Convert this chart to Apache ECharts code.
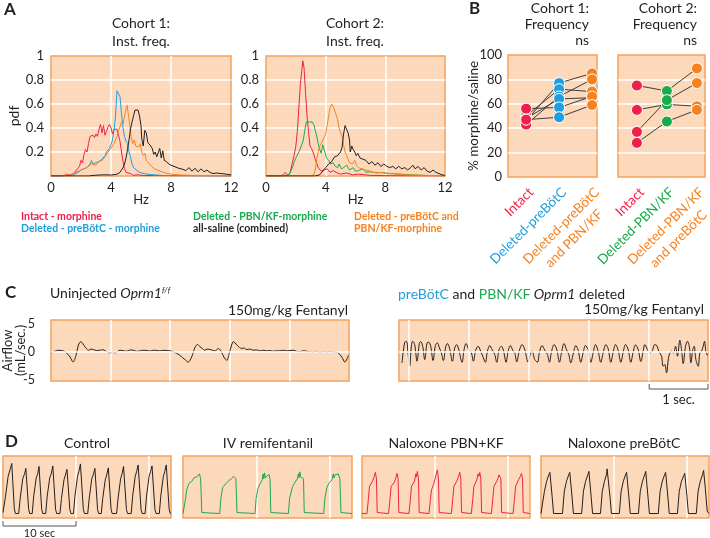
<!DOCTYPE html>
<html><head><meta charset="utf-8">
<script src="https://cdn.jsdelivr.net/npm/echarts@6/dist/echarts.min.js"></script>
<style>html,body{margin:0;padding:0;background:#fff}#c{width:710px;height:538px}</style>
</head><body><div id="c"></div>
<script>
// ---------------- DATA ----------------
const hzTicks = [0, 4, 8, 12];
const pdfTicks = [0.2, 0.4, 0.6, 0.8, 1];
const pctTicks = [0, 20, 40, 60, 80, 100];
const airTicks = [-5, 0, 5];

// Panel A, cohort 1 (Hz, pdf)
const c1Intact = [[0,0],[0.6,0],[0.9,0.005],[1.1,0.015],[1.3,0.005],[1.5,0.02],[1.7,0.05],[1.9,0.08],[2.0,0.13],[2.1,0.11],[2.2,0.18],[2.3,0.22],[2.4,0.2],[2.5,0.27],[2.6,0.33],[2.7,0.32],[2.8,0.34],[2.9,0.32],[3.0,0.35],[3.1,0.33],[3.2,0.39],[3.3,0.43],[3.4,0.36],[3.5,0.42],[3.6,0.34],[3.7,0.37],[3.8,0.41],[3.9,0.43],[4.0,0.4],[4.1,0.35],[4.2,0.39],[4.3,0.38],[4.4,0.39],[4.5,0.34],[4.6,0.29],[4.7,0.2],[4.8,0.12],[4.9,0.06],[5.0,0.03],[5.1,0.015],[5.3,0.02],[5.5,0.005],[5.8,0.01],[6.2,0.003],[7,0.005],[8,0.002],[9,0.004],[10,0.002],[12,0]];
const c1DelPre = [[0,0],[0.8,0],[1.2,0.005],[1.5,0.01],[1.8,0.03],[2.0,0.05],[2.2,0.06],[2.4,0.07],[2.6,0.1],[2.7,0.13],[2.8,0.1],[3.0,0.11],[3.2,0.12],[3.4,0.14],[3.6,0.17],[3.7,0.2],[3.8,0.19],[3.9,0.23],[4.0,0.26],[4.1,0.3],[4.2,0.38],[4.3,0.5],[4.4,0.71],[4.5,0.72],[4.6,0.66],[4.7,0.52],[4.8,0.4],[4.9,0.33],[5.0,0.29],[5.1,0.27],[5.2,0.2],[5.3,0.16],[5.4,0.1],[5.5,0.07],[5.7,0.05],[5.9,0.03],[6.2,0.02],[6.6,0.012],[7.0,0.008],[7.5,0.004],[8.5,0.002],[10,0],[12,0]];
const c1DelBoth = [[0,0],[0.8,0.003],[1.2,0.01],[1.5,0.02],[1.8,0.04],[2.0,0.05],[2.2,0.06],[2.5,0.08],[2.7,0.1],[3.0,0.09],[3.2,0.12],[3.4,0.13],[3.6,0.16],[3.8,0.2],[4.0,0.23],[4.2,0.27],[4.4,0.33],[4.5,0.38],[4.6,0.41],[4.7,0.45],[4.8,0.43],[4.9,0.5],[5.0,0.56],[5.07,0.59],[5.15,0.52],[5.25,0.42],[5.35,0.32],[5.45,0.27],[5.55,0.3],[5.65,0.25],[5.75,0.26],[5.85,0.24],[5.95,0.27],[6.05,0.2],[6.15,0.17],[6.25,0.19],[6.35,0.13],[6.5,0.11],[6.7,0.08],[6.9,0.06],[7.2,0.045],[7.5,0.03],[7.8,0.02],[8.2,0.012],[8.7,0.008],[9.5,0.005],[10.5,0.004],[12,0.002]];
const c1Saline = [[0,0],[2.5,0],[2.8,0.005],[3.2,0.008],[3.6,0.01],[4.0,0.008],[4.4,0.015],[4.6,0.03],[4.8,0.07],[4.9,0.1],[5.0,0.15],[5.1,0.22],[5.2,0.3],[5.3,0.39],[5.4,0.45],[5.5,0.5],[5.6,0.55],[5.7,0.56],[5.8,0.55],[5.9,0.5],[6.0,0.42],[6.05,0.31],[6.15,0.25],[6.25,0.38],[6.35,0.36],[6.45,0.28],[6.55,0.27],[6.65,0.25],[6.75,0.23],[6.85,0.18],[6.95,0.2],[7.05,0.16],[7.15,0.17],[7.25,0.23],[7.35,0.15],[7.45,0.21],[7.55,0.13],[7.7,0.12],[7.85,0.1],[8.0,0.09],[8.2,0.08],[8.5,0.065],[8.8,0.055],[9.0,0.045],[9.2,0.07],[9.4,0.04],[9.6,0.065],[9.8,0.035],[10.0,0.06],[10.2,0.035],[10.4,0.05],[10.6,0.03],[10.8,0.02],[11.0,0.025],[11.4,0.02],[11.7,0.015],[12,0.01]];

// Panel A, cohort 2 (Hz, pdf)
const c2Intact = [[0,0],[0.9,0],[1.1,0.005],[1.3,0.03],[1.45,0.005],[1.6,0.02],[1.75,0.1],[1.9,0.18],[2.0,0.25],[2.1,0.37],[2.2,0.56],[2.3,0.76],[2.4,0.88],[2.47,0.96],[2.55,0.9],[2.65,0.7],[2.75,0.5],[2.85,0.37],[2.95,0.25],[3.05,0.23],[3.15,0.2],[3.3,0.14],[3.5,0.07],[3.7,0.04],[3.9,0.05],[4.1,0.06],[4.3,0.03],[4.5,0.045],[4.7,0.03],[5.0,0.015],[5.4,0.025],[5.8,0.01],[6.2,0.015],[7,0.005],[8,0.003],[9,0.002],[12,0]];
const c2DelPbn = [[0,0],[1.1,0],[1.4,0.005],[1.6,0.02],[1.8,0.08],[1.9,0.12],[2.0,0.15],[2.2,0.2],[2.4,0.26],[2.5,0.3],[2.6,0.38],[2.7,0.45],[2.8,0.46],[2.9,0.45],[3.0,0.44],[3.1,0.45],[3.2,0.43],[3.3,0.38],[3.4,0.33],[3.5,0.27],[3.6,0.22],[3.7,0.19],[3.8,0.26],[3.85,0.27],[3.95,0.2],[4.05,0.15],[4.2,0.13],[4.35,0.1],[4.5,0.11],[4.65,0.08],[4.8,0.07],[4.9,0.1],[5.05,0.06],[5.2,0.07],[5.4,0.09],[5.6,0.05],[5.85,0.07],[6.0,0.04],[6.2,0.045],[6.5,0.06],[6.7,0.03],[7.0,0.035],[7.4,0.025],[7.8,0.03],[8.2,0.02],[8.6,0.02],[9.0,0.015],[9.5,0.012],[10,0.008],[10.5,0.005],[11,0.004],[12,0.002]];
const c2DelBoth = [[0,0],[3.0,0],[3.2,0.01],[3.3,0.05],[3.4,0.14],[3.5,0.2],[3.6,0.25],[3.7,0.27],[3.8,0.3],[3.9,0.32],[4.0,0.35],[4.1,0.42],[4.2,0.5],[4.3,0.57],[4.4,0.6],[4.5,0.58],[4.6,0.55],[4.7,0.51],[4.8,0.47],[4.9,0.4],[5.0,0.36],[5.1,0.33],[5.2,0.26],[5.3,0.2],[5.4,0.17],[5.5,0.14],[5.6,0.11],[5.7,0.1],[5.8,0.1],[5.95,0.13],[6.05,0.09],[6.2,0.07],[6.4,0.06],[6.6,0.05],[6.9,0.045],[7.2,0.03],[7.5,0.03],[8.0,0.025],[8.4,0.02],[8.8,0.015],[9.3,0.01],[10,0.008],[11,0.004],[12,0.002]];
const c2Saline = [[0,0],[3.3,0],[3.6,0.01],[3.8,0.04],[4.0,0.07],[4.2,0.1],[4.4,0.12],[4.6,0.16],[4.8,0.17],[5.0,0.2],[5.1,0.24],[5.2,0.35],[5.3,0.42],[5.4,0.42],[5.5,0.36],[5.6,0.3],[5.65,0.2],[5.75,0.25],[5.85,0.22],[5.95,0.2],[6.05,0.17],[6.15,0.19],[6.3,0.15],[6.5,0.14],[6.7,0.13],[6.9,0.1],[7.1,0.12],[7.3,0.09],[7.5,0.11],[7.7,0.08],[7.9,0.1],[8.1,0.08],[8.3,0.07],[8.5,0.08],[8.7,0.06],[8.9,0.08],[9.1,0.06],[9.3,0.07],[9.5,0.05],[9.7,0.07],[9.85,0.09],[10.0,0.06],[10.2,0.08],[10.4,0.05],[10.6,0.07],[10.8,0.04],[11.0,0.03],[11.2,0.05],[11.4,0.03],[11.6,0.02],[11.8,0.01],[12,0.005]];

// Panel B (% morphine/saline), one entry per animal
const bC1Cats = ['Intact', 'Deleted-preBötC', 'Deleted-preBötC\nand PBN/KF'];
const bC1Intact = [46, 50, 43, 48, 56, 47];
const bC1DelPre = [77, 72, 66, 64, 57, 49];
const bC1DelBoth = [85, 70, 80, 65, 66, 59];
const bC2Cats = ['Intact', 'Deleted-PBN/KF', 'Deleted-PBN/KF\nand preBötC'];
const bC2Intact = [75, 55, 37, 28];
const bC2DelPbn = [70.5, 59.5, 63, 45.5];
const bC2DelBoth = [89, 58, 77, 55];

// Panel C airflow (sec, mL/sec)
const cUninj = [[0,-0.18],[0.06,0.1],[0.12,0.3],[0.17,0.24],[0.21,0.18],[0.26,-0.18],[0.32,-0.91],[0.37,-1.83],[0.42,-0.61],[0.46,1.22],[0.5,1.83],[0.57,0.91],[0.63,0.3],[0.67,0.5],[0.71,0.43],[0.76,0.25],[0.82,0.3],[0.87,0.4],[0.91,0.18],[0.99,-0.18],[1.03,0],[1.07,-0.18],[1.12,0.1],[1.16,0.3],[1.22,0.2],[1.27,0.12],[1.33,0.35],[1.38,0.3],[1.44,0.1],[1.49,0.18],[1.55,0.3],[1.61,0.24],[1.66,0.15],[1.72,0.3],[1.78,0.25],[1.83,0.18],[1.89,0.3],[1.94,0.24],[2.0,0.2],[2.05,0],[2.1,-0.2],[2.16,-0.61],[2.25,-1.4],[2.3,-1.83],[2.36,-0.91],[2.42,0.91],[2.46,1.34],[2.5,0.91],[2.54,0.6],[2.58,0.3],[2.62,0.5],[2.67,0.43],[2.71,0.3],[2.75,0.18],[2.81,0.61],[2.86,0],[2.9,-0.91],[2.95,-1.52],[2.99,-0.3],[3.03,1.22],[3.06,1.83],[3.12,1.22],[3.16,0.8],[3.2,0.61],[3.24,0.7],[3.28,0.43],[3.34,0.5],[3.39,0.3],[3.45,0.35],[3.51,0.18],[3.56,0.3],[3.62,0.18],[3.67,0.25],[3.73,0.12],[3.78,0.2],[3.84,0.18],[3.9,0.3],[3.95,0.18],[4.01,0.25],[4.07,0.3],[4.12,0.1],[4.18,0.06],[4.24,0.2],[4.29,0.12],[4.35,0.05],[4.4,0],[4.46,0.1],[4.51,-0.06],[4.57,0.05],[4.63,0],[4.68,0.08],[4.74,0],[4.79,-0.05],[4.82,-0.18],[4.88,-0.91],[4.93,-1.83],[4.99,-0.61]];
const cDeleted = [[-0.117,-1.96],[-0.072,1.73],[-0.044,1.9],[-0.011,-0.77],[0.011,-2.56],[0.039,1.01],[0.061,1.9],[0.094,1.31],[0.133,-1.67],[0.172,1.49],[0.194,1.85],[0.228,1.01],[0.261,-1.37],[0.3,1.61],[0.328,1.73],[0.361,1.01],[0.4,-1.55],[0.439,1.13],[0.472,1.61],[0.506,0.71],[0.539,-0.18],[0.572,-1.55],[0.611,0.89],[0.639,1.49],[0.678,0.54],[0.722,-1.67],[0.761,0.71],[0.794,1.31],[0.828,0.42],[0.883,-1.85],[0.917,0.42],[0.95,1.49],[0.994,0.42],[1.039,-0.18],[1.072,-1.67],[1.111,0.3],[1.15,1.01],[1.194,0.12],[1.228,-0.77],[1.272,-1.85],[1.306,0.12],[1.344,1.13],[1.383,0.42],[1.428,-0.48],[1.461,-1.85],[1.5,0.42],[1.539,1.01],[1.572,0.3],[1.617,-1.85],[1.65,0.12],[1.689,1.13],[1.728,0.3],[1.761,-0.18],[1.794,-1.79],[1.839,0.3],[1.883,1.31],[1.928,0.42],[1.983,-1.85],[2.017,-0.48],[2.05,0.12],[2.094,-1.37],[2.139,-1.85],[2.172,-0.06],[2.217,1.13],[2.261,0.3],[2.306,-0.48],[2.339,-1.85],[2.372,-0.06],[2.417,1.31],[2.461,0.42],[2.506,-1.85],[2.539,-0.18],[2.583,1.49],[2.622,0.42],[2.661,-0.48],[2.694,-1.96],[2.739,-0.18],[2.778,1.13],[2.817,0.3],[2.861,-1.85],[2.9,-0.18],[2.939,1.13],[2.983,0.42],[3.028,-1.85],[3.067,-0.18],[3.106,1.31],[3.15,0.12],[3.194,-1.85],[3.233,-0.18],[3.278,1.31],[3.317,0.54],[3.361,-1.85],[3.4,-0.06],[3.439,1.31],[3.483,0.3],[3.528,-1.85],[3.567,-0.06],[3.606,1.31],[3.65,0.42],[3.694,-1.85],[3.733,-0.06],[3.772,1.25],[3.817,0.42],[3.861,-1.73],[3.9,0.12],[3.928,1.31],[3.972,0.42],[4.017,-0.18],[4.05,0.12],[4.094,1.31],[4.128,1.13],[4.161,0.12],[4.206,-0.77],[4.233,-2.56],[4.261,-2.26],[4.289,-3.75],[4.328,-0.77],[4.372,0.12],[4.406,-0.18],[4.439,1.01],[4.472,-0.77],[4.511,2.08],[4.539,0.42],[4.567,-2.08],[4.606,1.01],[4.639,1.9],[4.672,0.71],[4.694,-1.96],[4.728,0.42],[4.75,1.01],[4.778,-1.37],[4.817,-2.56],[4.844,-0.18],[4.872,0.12],[4.9,1.01],[4.922,1.9],[4.944,0.12],[4.972,-0.65]];

// Panel D airflow traces (sec, normalized amplitude)
const dControl = [[0,0.02],[0.3,0.3],[0.7,0.75],[1.0,0.9],[1.2,1.01],[1.55,0.1],[1.7,0],[2.15,0],[2.35,0.3],[2.7,0.7],[2.95,0.8],[3.13,0.91],[3.5,0.1],[3.65,0],[4.0,0],[4.2,0.35],[4.55,0.72],[4.75,0.8],[4.93,0.95],[5.3,0.08],[5.45,0],[5.85,0],[6.05,0.35],[6.4,0.72],[6.6,0.8],[6.82,0.96],[7.2,0.08],[7.35,0],[7.8,0],[8.0,0.3],[8.35,0.68],[8.55,0.78],[8.76,0.89],[9.15,0.08],[9.3,0],[9.65,0],[9.85,0.35],[10.2,0.75],[10.4,0.85],[10.6,1.0],[11.0,0.08],[11.15,0],[11.6,0],[11.8,0.3],[12.15,0.7],[12.4,0.8],[12.58,0.91],[12.95,0.08],[13.1,0],[13.45,0],[13.65,0.3],[14.0,0.68],[14.2,0.78],[14.42,0.92],[14.8,0.08],[14.95,0],[15.55,0],[15.75,0.3],[16.1,0.7],[16.3,0.8],[16.5,0.95],[16.9,0.08],[17.05,0],[17.55,0],[17.75,0.35],[18.1,0.75],[18.3,0.85],[18.5,0.98],[18.9,0.08],[19.05,0],[19.45,0],[19.65,0.35],[20.0,0.75],[20.2,0.85],[20.4,0.96],[20.8,0.08],[20.95,0],[21.4,0],[21.6,0.35],[21.95,0.75],[22.15,0.85],[22.35,0.98],[22.75,0.08],[22.9,0],[23,0]];
const dRemi = [[0,0],[0.18,0.01],[0.35,0.3],[0.5,0.48],[0.82,0.61],[1.2,0.65],[1.5,0.72],[1.9,0.74],[2.24,0.8],[2.4,0.7],[2.56,0.02],[2.7,0],[5.0,0],[5.15,0.3],[5.39,0.52],[5.8,0.6],[6.21,0.66],[6.6,0.7],[6.9,0.75],[7.03,0.78],[7.2,0.7],[7.35,0.02],[7.5,0],[9.8,0],[9.95,0.3],[10.18,0.5],[10.5,0.6],[10.78,0.68],[10.9,0.8],[11.0,0.7],[11.1,0.82],[11.2,0.72],[11.4,0.75],[11.69,0.79],[11.85,0.7],[11.95,0.02],[12.1,0],[14.35,0],[14.5,0.3],[14.89,0.54],[15.2,0.62],[15.57,0.7],[15.7,0.8],[15.8,0.72],[15.9,0.84],[16.0,0.74],[16.26,0.78],[16.4,0.7],[16.5,0.02],[16.65,0],[19.15,0],[19.3,0.3],[19.59,0.53],[19.9,0.62],[20.27,0.68],[20.45,0.8],[20.55,0.72],[20.7,0.78],[21.14,0.8],[21.35,0.7],[21.5,0.02],[21.65,0],[23,0]];
const dNalPbn = [[0,0],[0.68,0],[0.88,0.3],[1.03,0.55],[1.43,0.65],[1.68,0.75],[1.83,0.83],[1.98,0.7],[2.08,0.02],[2.23,0],[3.64,0],[3.84,0.3],[3.99,0.55],[4.39,0.62],[4.64,0.72],[4.79,0.81],[4.94,0.7],[5.04,0.02],[5.19,0],[6.43,0],[6.63,0.3],[6.78,0.55],[7.18,0.65],[7.38,0.8],[7.45,0.74],[7.58,0.85],[7.73,0.7],[7.83,0.02],[7.98,0],[9.17,0],[9.37,0.3],[9.52,0.48],[9.7,0.5],[9.8,0.58],[10.0,0.7],[10.32,0.88],[10.47,0.7],[10.57,0.02],[10.72,0],[12.23,0],[12.43,0.3],[12.58,0.55],[12.98,0.65],[13.23,0.75],[13.38,0.83],[13.53,0.7],[13.63,0.02],[13.78,0],[14.97,0],[15.17,0.3],[15.32,0.55],[15.72,0.68],[15.9,0.8],[16.0,0.75],[16.12,0.83],[16.27,0.7],[16.37,0.02],[16.52,0],[17.71,0],[17.91,0.3],[18.06,0.55],[18.46,0.65],[18.65,0.72],[18.75,0.78],[18.86,0.78],[19.01,0.7],[19.11,0.02],[19.26,0],[20.68,0],[20.88,0.3],[21.03,0.55],[21.43,0.68],[21.68,0.75],[21.83,0.81],[21.98,0.7],[22.08,0.02],[22.23,0],[23,0]];
const dNalPre = [[0,0],[0.22,0.02],[0.47,0.45],[0.77,0.65],[1.07,0.78],[1.22,0.83],[1.52,0.35],[1.72,0],[2.94,0],[3.19,0.45],[3.49,0.65],[3.79,0.78],[3.94,0.83],[4.24,0.35],[4.44,0],[5.56,0],[5.81,0.45],[6.11,0.65],[6.41,0.78],[6.56,0.85],[6.86,0.35],[7.06,0],[8.14,0],[8.39,0.45],[8.69,0.65],[8.99,0.8],[9.05,0.9],[9.14,0.88],[9.2,0.92],[9.44,0.35],[9.64,0],[10.72,0],[10.97,0.45],[11.27,0.65],[11.57,0.78],[11.72,0.83],[12.02,0.35],[12.22,0],[13.34,0],[13.59,0.45],[13.89,0.65],[14.19,0.78],[14.34,0.85],[14.64,0.35],[14.84,0],[16.06,0],[16.31,0.45],[16.61,0.65],[16.91,0.78],[17.06,0.83],[17.36,0.35],[17.56,0],[18.68,0],[18.93,0.45],[19.23,0.65],[19.53,0.76],[19.68,0.81],[19.98,0.35],[20.18,0],[21.26,0],[21.51,0.45],[21.81,0.65],[22.11,0.78],[22.26,0.87],[22.5,0.5],[22.75,0.05],[23,0]];

// ---------------- STYLE ----------------
const RED = '#ee2049', BLUE = '#1e9fdf', ORANGE = '#f6821f', GREEN = '#1aa94c', BLACK = '#231f20';
const BG = '#fdd9bb', BORDER = '#f5a25c';
const FONT = 'Lato, "Noto Sans", sans-serif';
const TXT = '#231f20';

const chart = echarts.init(document.getElementById('c'), null, {renderer: 'canvas'});

const gridBoxes = [
  {left: 51, top: 56, width: 180, height: 120},
  {left: 266, top: 56, width: 179, height: 120},
  {left: 508, top: 55, width: 89, height: 122},
  {left: 618, top: 55, width: 87, height: 122},
  {left: 51, top: 320, width: 298, height: 61},
  {left: 399, top: 320, width: 309, height: 61},
  {left: 3, top: 456, width: 168, height: 62},
  {left: 183, top: 456, width: 169, height: 62},
  {left: 362, top: 456, width: 168, height: 62},
  {left: 541, top: 456, width: 168, height: 62}
];
const grid = gridBoxes.map(g => Object.assign({show: true, backgroundColor: BG, borderColor: BORDER, borderWidth: 1.5, containLabel: false, outerBoundsMode: 'none'}, g));

const white = {show: true, showMinLine: false, showMaxLine: false, lineStyle: {color: '#ffffff', width: 1.5}};
const base = (gi, o) => Object.assign({gridIndex: gi, type: 'value', nameMoveOverlap: false, axisLine: {show: false}, axisTick: {show: false}, axisLabel: {show: false}, splitLine: {show: false}}, o);
const lbl = {show: true, fontSize: 13, color: TXT, fontFamily: FONT, showMinLabel: true, showMaxLabel: true, hideOverlap: false};

const hzName = {name: 'Hz', nameLocation: 'middle', nameGap: 17, nameTextStyle: {fontSize: 13, color: TXT, fontFamily: FONT}};
const xAxis = [
  base(0, Object.assign({min: 0, max: 12, interval: 4, axisLabel: Object.assign({}, lbl, {customValues: hzTicks, margin: 5}), splitLine: white}, hzName)),
  base(1, Object.assign({min: 0, max: 12, interval: 4, axisLabel: Object.assign({}, lbl, {customValues: hzTicks, margin: 5}), splitLine: white}, hzName)),
  base(2, {min: -0.55, max: 2.15}),
  base(3, {min: -0.63, max: 2.27}),
  base(4, {min: 0, max: 5, interval: 1, splitLine: white}),
  base(5, {min: -0.167, max: 4.98}),
  base(6, {min: 0, max: 23, interval: 10, splitLine: white}),
  base(7, {min: 0, max: 23, interval: 10, splitLine: white}),
  base(8, {min: 0, max: 23, interval: 10, splitLine: white}),
  base(9, {min: 0, max: 23, interval: 10, splitLine: white})
];
const yAxis = [
  base(0, {min: 0, max: 1, interval: 0.2, axisLabel: Object.assign({}, lbl, {customValues: pdfTicks, margin: 7}), splitLine: white, name: 'pdf', nameLocation: 'middle', nameGap: 30, nameTextStyle: {fontSize: 14, color: TXT, fontFamily: FONT}}),
  base(1, {min: 0, max: 1, interval: 0.2, axisLabel: Object.assign({}, lbl, {customValues: pdfTicks, margin: 7}), splitLine: white}),
  base(2, {min: 0, max: 100, interval: 20, axisLabel: Object.assign({}, lbl, {customValues: pctTicks, margin: 6}), splitLine: white, name: '% morphine/saline', nameLocation: 'middle', nameGap: 27, nameTextStyle: {fontSize: 13.5, color: TXT, fontFamily: FONT}}),
  base(3, {min: 0, max: 100, interval: 20, splitLine: white}),
  base(4, {min: -5.2, max: 5.7, axisLabel: Object.assign({}, lbl, {customValues: airTicks, margin: 16, fontSize: 12.5}), name: 'Airflow\n(mL/sec.)', nameLocation: 'middle', nameGap: 24, nameTextStyle: {fontSize: 13, color: TXT, fontFamily: FONT, lineHeight: 13}}),
  base(5, {min: -5.2, max: 5.7}),
  base(6, {min: -0.09, max: 1.16}),
  base(7, {min: -0.09, max: 1.16}),
  base(8, {min: -0.09, max: 1.16}),
  base(9, {min: -0.09, max: 1.16})
];

const series = [];
function trace(gi, data, color, smooth) {
  series.push({type: 'line', xAxisIndex: gi, yAxisIndex: gi, data: data, showSymbol: false, symbol: 'none', smooth: smooth || false, lineStyle: {color: color, width: 1}, z: 3, silent: true});
}
function gridLines(gi, lines) {
  series.push({type: 'line', xAxisIndex: gi, yAxisIndex: gi, data: [], symbol: 'none', z: 1, silent: true,
    markLine: {silent: true, symbol: 'none', label: {show: false}, lineStyle: {color: '#ffffff', width: 1.5, type: 'solid'}, data: lines}});
}

// A
trace(0, c1Intact, RED); trace(0, c1DelPre, BLUE); trace(0, c1DelBoth, ORANGE); trace(0, c1Saline, BLACK);
trace(1, c2Intact, RED); trace(1, c2DelPbn, GREEN); trace(1, c2DelBoth, ORANGE); trace(1, c2Saline, BLACK);

// B
function pairs(gi, a, b, c, colors) {
  for (let i = 0; i < a.length; i++) {
    series.push({type: 'line', xAxisIndex: gi, yAxisIndex: gi, data: [[0, a[i]], [1, b[i]], [2, c[i]]], symbol: 'none', lineStyle: {color: '#3d3d3d', width: 1}, z: 3, silent: true});
  }
  [a, b, c].forEach((arr, k) => {
    series.push({type: 'scatter', xAxisIndex: gi, yAxisIndex: gi, data: arr.map(v => [k, v]), symbolSize: 11, itemStyle: {color: colors[k], borderColor: '#ffffff', borderWidth: 1, opacity: 1}, z: 5, silent: true});
  });
}
pairs(2, bC1Intact, bC1DelPre, bC1DelBoth, [RED, BLUE, ORANGE]);
pairs(3, bC2Intact, bC2DelPbn, bC2DelBoth, [RED, GREEN, ORANGE]);

// C
gridLines(4, [{yAxis: 0}]);
gridLines(5, [{xAxis: 0}, {xAxis: 1}, {xAxis: 2}, {xAxis: 3}, {xAxis: 4}, {yAxis: 0}]);
trace(4, cUninj, BLACK, 0.3);
trace(5, cDeleted, BLACK, 0.35);

// D
trace(6, dControl, BLACK);
trace(7, dRemi, GREEN);
trace(8, dNalPbn, RED);
trace(9, dNalPre, BLACK);

chart.setOption({animation: false, textStyle: {fontFamily: FONT}, grid: grid, xAxis: xAxis, yAxis: yAxis, series: series});

// ---------------- TEXT / ANNOTATIONS ----------------
function txt(text, x, y, opts) {
  opts = opts || {};
  return {type: 'text', x: x, y: y, rotation: opts.rotation || 0, silent: true, z: 100, style: Object.assign({text: text, fill: opts.fill || TXT, font: opts.font || ('14px ' + FONT), textAlign: opts.align || 'left', align: opts.align || 'left', textVerticalAlign: 'middle', verticalAlign: 'middle'}, opts.rich ? {rich: opts.rich} : {})};
}
const g = [];
const bold16 = 'bold 17px ' + FONT;
g.push(txt('A', 4, 10, {font: bold16}));
g.push(txt('B', 469, 9, {font: bold16}));
g.push(txt('C', 5, 293, {font: bold16}));
g.push(txt('D', 5, 442, {font: bold16}));

g.push(txt('Cohort 1:', 141, 23, {align: 'center'}));
g.push(txt('Inst. freq.', 141, 41, {align: 'center'}));
g.push(txt('Cohort 2:', 355, 23, {align: 'center'}));
g.push(txt('Inst. freq.', 355, 41, {align: 'center'}));

g.push(txt('Cohort 1:', 589, 8, {align: 'right'}));
g.push(txt('Frequency', 589, 24, {align: 'right'}));
g.push(txt('ns', 589, 40, {align: 'right'}));
g.push(txt('Cohort 2:', 697, 8, {align: 'right'}));
g.push(txt('Frequency', 697, 24, {align: 'right'}));
g.push(txt('ns', 697, 40, {align: 'right'}));

// rotated category labels of panel B, anchored at each category's axis position
const mctx = document.createElement('canvas').getContext('2d');
function textWidth(s, font) { mctx.font = font; return mctx.measureText(s).width; }
const TH = Math.PI / 4, CO = Math.cos(TH), SI = Math.sin(TH), LH = 18;
const catFont = '13.5px ' + FONT;
function catLabels(gi, cats, colors) {
  cats.forEach((c, i) => {
    const p = chart.convertToPixel({gridIndex: gi}, [i, 0]);
    const lines = c.split('\n');
    const L1 = textWidth(lines[0], catFont);
    const ex = p[0] + 5, ey = p[1] + 13;
    const cx = ex - L1 / 2 * CO, cy = ey + L1 / 2 * SI;
    lines.forEach((ln, k) => {
      g.push(txt(ln, cx + k * LH * SI, cy + k * LH * CO, {align: 'center', rotation: TH, fill: colors[i], font: catFont}));
    });
  });
}
catLabels(2, bC1Cats, [RED, BLUE, ORANGE]);
catLabels(3, bC2Cats, [RED, GREEN, ORANGE]);

const legFont = 'bold 10.5px ' + FONT;
g.push(txt('Intact - morphine', 21, 217, {fill: RED, font: legFont}));
g.push(txt('Deleted - preBötC - morphine', 21, 229, {fill: BLUE, font: legFont}));
g.push(txt('Deleted - PBN/KF-morphine', 193, 217, {fill: GREEN, font: legFont}));
g.push(txt('all-saline (combined)', 193, 229, {fill: BLACK, font: legFont}));
g.push(txt('Deleted - preBötC and', 354, 217, {fill: ORANGE, font: legFont}));
g.push(txt('PBN/KF-morphine', 354, 229, {fill: ORANGE, font: legFont}));

const cRich = {
  n: {fontSize: 14, fontFamily: FONT, fill: TXT, color: TXT},
  i: {fontSize: 14, fontFamily: FONT, fontStyle: 'italic', fill: TXT, color: TXT},
  s: {fontSize: 8, fontFamily: FONT, fontStyle: 'italic', fill: TXT, color: TXT, verticalAlign: 'top', padding: [0, 0, 6, 0]},
  b: {fontSize: 14, fontFamily: FONT, fill: BLUE, color: BLUE},
  g: {fontSize: 14, fontFamily: FONT, fill: GREEN, color: GREEN}
};
g.push(txt('{n|Uninjected }{i|Oprm1}{s|f/f}', 50, 293, {rich: cRich}));
g.push(txt('150mg/kg Fentanyl', 348, 310, {align: 'right'}));
g.push(txt('{b|preBötC}{n| and }{g|PBN/KF}{i| Oprm1}{n| deleted}', 398, 294, {rich: cRich}));
g.push(txt('150mg/kg Fentanyl', 704, 309, {align: 'right'}));

g.push(txt('Control', 87, 443, {align: 'center'}));
g.push(txt('IV remifentanil', 268, 443, {align: 'center'}));
g.push(txt('Naloxone PBN+KF', 446, 443, {align: 'center'}));
g.push(txt('Naloxone preBötC', 624, 443, {align: 'center'}));

// scale bars derived from the axes
const sb1a = chart.convertToPixel({gridIndex: 5}, [4, -5.2]);
const sb1b = chart.convertToPixel({gridIndex: 5}, [4.98, -5.2]);
g.push({type: 'polyline', silent: true, shape: {points: [[sb1a[0], sb1a[1] + 3], [sb1a[0], sb1a[1] + 8], [sb1b[0], sb1b[1] + 8], [sb1b[0], sb1b[1] + 3]]}, style: {stroke: '#555', lineWidth: 1, fill: null}});
g.push(txt('1 sec.', (sb1a[0] + sb1b[0]) / 2, sb1a[1] + 19, {align: 'center', font: '13px ' + FONT}));
const sb2a = chart.convertToPixel({gridIndex: 6}, [0, -0.09]);
const sb2b = chart.convertToPixel({gridIndex: 6}, [10, -0.09]);
g.push({type: 'polyline', silent: true, shape: {points: [[sb2a[0], sb2a[1] + 3], [sb2a[0], sb2a[1] + 8], [sb2b[0], sb2b[1] + 8], [sb2b[0], sb2b[1] + 3]]}, style: {stroke: '#555', lineWidth: 1, fill: null}});
g.push(txt('10 sec', (sb2a[0] + sb2b[0]) / 2, sb2a[1] + 15, {align: 'center', font: '11px ' + FONT}));

chart.setOption({graphic: {elements: g}});
</script></body></html>
